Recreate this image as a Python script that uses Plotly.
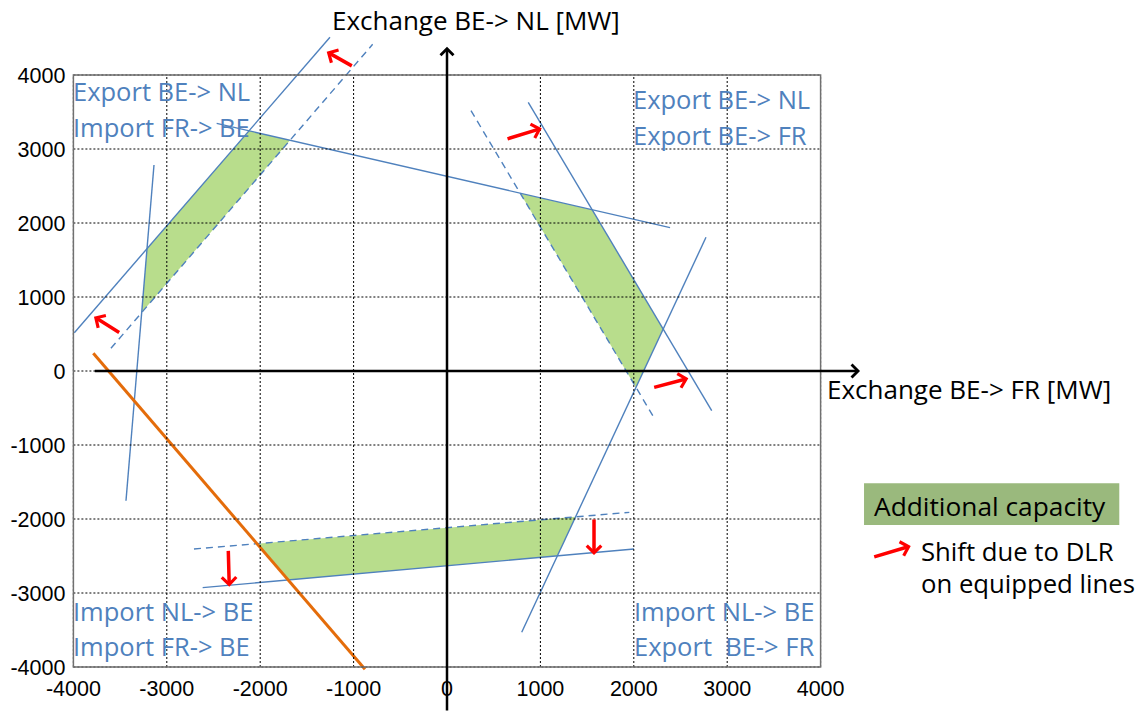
import plotly.graph_objects as go

# ---------------- data (MW) ----------------
X_TICKS = [-4000, -3000, -2000, -1000, 0, 1000, 2000, 3000, 4000]
Y_TICKS = [-4000, -3000, -2000, -1000, 0, 1000, 2000, 3000, 4000]

# constraint lines: [(x0, y0), (x1, y1)]
LINE_TL_DLR = [(-3990, 518), (-1253, 4510)]
LINE_TL_STATIC = [(-3598, 307), (-796, 4415)]
LINE_LEFT = [(-3137, 2784), (-3437, -1753)]
LINE_TOP = [(-2466, 3347), (2388, 1937)]
LINE_TR_DLR = [(870, 3631), (2834, -536)]
LINE_TR_STATIC = [(257, 3518), (2227, -653)]
LINE_RIGHT = [(800, -3531), (2773, 1807)]
LINE_BOTTOM_DLR = [(-2616, -2928), (2002, -2405)]
LINE_BOTTOM_STATIC = [(-2709, -2405), (1952, -1910)]
LINE_ORANGE = [(-3787, 239), (-878, -4031)]

# red shift arrows (tail -> head)
ARROW_TAIL_X = [-1003, -3494, 632, 2202, -2342, 1574]
ARROW_TAIL_Y = [4112, 509, 3131, -226, -2410, -1987]
ARROW_HEAD_X = [-1288, -3780, 1014, 2584, -2331, 1574]
ARROW_HEAD_Y = [4315, 734, 3280, -99, -2915, -2487]

CORNER_TEXTS = [
    ("Export BE-> NL", -4026, 3790), ("Import FR-> BE", -4026, 3300),
    ("Export BE-> NL", 1973, 3680), ("Export BE-> FR", 1973, 3190),
    ("Import NL-> BE", -4026, -3240), ("Import FR-> BE", -4026, -3715),
    ("Import NL-> BE", 1981, -3240), ("Export  BE-> FR", 1981, -3715),
]
TITLE_NL = ("Exchange BE-> NL [MW]", -1253, 4740)
TITLE_FR = ("Exchange BE-> FR [MW]", 4047, -240)
LEGEND_FILL_TEXT = ("Additional capacity", 4555, -1820)
LEGEND_ARROW_TEXT = [("Shift due to DLR", 5051, -2440), ("on equipped lines", 5051, -2875)]
LEGEND_RECT = (4465, -2081, 7198, -1518)
LEGEND_ARROW = ((4558, -2518), (4965, -2365))
AXIS_V = ((0, -4608), (0, 4383))
AXIS_H = ((-3787, 0), (4422, 0))

# ---------------- layout geometry (pixels) ----------------
W, H = 1145, 712
BOX_L, BOX_R, BOX_T, BOX_B = 73.4, 820.6, 75.0, 667.0
sx = (BOX_R - BOX_L) / 8000.0
sy = (BOX_B - BOX_T) / 8000.0
x0px = (BOX_L + BOX_R) / 2
y0px = (BOX_T + BOX_B) / 2
ext_x = [(0 - x0px) / sx, (W - x0px) / sx]
ext_y = [(y0px - H) / sy, (y0px - 0) / sy]

BLUE = "#4F81BD"
ORANGE = "#E46C0A"
RED = "#FF0000"
GREEN = "rgb(184,221,140)"
LEG_GREEN = "rgb(154,185,125)"
TXT_FONT = "Open Sans"


def intersect(l1, l2):
    (x1, y1), (x2, y2) = l1
    (x3, y3), (x4, y4) = l2
    d = (x1 - x2) * (y3 - y4) - (y1 - y2) * (x3 - x4)
    a = x1 * y2 - y1 * x2
    b = x3 * y4 - y3 * x4
    return ((a * (x3 - x4) - (x1 - x2) * b) / d, (a * (y3 - y4) - (y1 - y2) * b) / d)


fig = go.Figure()

# green areas
polys = [
    [(LINE_TL_DLR, LINE_LEFT), (LINE_TL_DLR, LINE_TOP), (LINE_TOP, LINE_TL_STATIC), (LINE_TL_STATIC, LINE_LEFT)],
    [(LINE_TOP, LINE_TR_STATIC), (LINE_TOP, LINE_TR_DLR), (LINE_TR_DLR, LINE_RIGHT), (LINE_RIGHT, LINE_TR_STATIC)],
    [(LINE_ORANGE, LINE_BOTTOM_STATIC), (LINE_BOTTOM_STATIC, LINE_RIGHT), (LINE_RIGHT, LINE_BOTTOM_DLR), (LINE_BOTTOM_DLR, LINE_ORANGE)],
]
for p in polys:
    pts = [intersect(a, b) for a, b in p]
    xs = [q[0] for q in pts] + [pts[0][0]]
    ys = [q[1] for q in pts] + [pts[0][1]]
    fig.add_trace(go.Scatter(x=xs, y=ys, mode="lines", fill="toself", fillcolor=GREEN,
                             line=dict(width=0, color=GREEN), hoverinfo="skip"))


def add_line(seg, color, width, dash="solid"):
    fig.add_trace(go.Scatter(x=[seg[0][0], seg[1][0]], y=[seg[0][1], seg[1][1]], mode="lines",
                             line=dict(color=color, width=width, dash=dash), hoverinfo="skip"))


for seg in [LINE_TL_DLR, LINE_LEFT, LINE_TOP, LINE_TR_DLR, LINE_RIGHT, LINE_BOTTOM_DLR]:
    add_line(seg, BLUE, 1.4)
for seg in [LINE_TL_STATIC, LINE_TR_STATIC, LINE_BOTTOM_STATIC]:
    add_line(seg, BLUE, 1.4, "7px,5px")
add_line(LINE_ORANGE, ORANGE, 3)

annotations = []


def arrow(tail, head, color, width, size):
    annotations.append(dict(x=head[0], y=head[1], ax=tail[0], ay=tail[1], xref="x", yref="y",
                            axref="x", ayref="y", text="", showarrow=True, arrowhead=4,
                            arrowsize=size, arrowwidth=width, arrowcolor=color, standoff=0,
                            startstandoff=0))


arrow(AXIS_V[0], AXIS_V[1], "black", 2.5, 1.0)
arrow(AXIS_H[0], AXIS_H[1], "black", 2.5, 1.0)
for tx, ty, hx, hy in zip(ARROW_TAIL_X, ARROW_TAIL_Y, ARROW_HEAD_X, ARROW_HEAD_Y):
    arrow((tx, ty), (hx, hy), RED, 3.5, 0.8)
arrow(LEGEND_ARROW[0], LEGEND_ARROW[1], RED, 3.5, 0.8)


def text(t, x, y, color, size):
    annotations.append(dict(x=x, y=y, xref="x", yref="y", text=t, showarrow=False,
                            xanchor="left", yanchor="middle",
                            font=dict(family=TXT_FONT, size=size, color=color)))


for t, x, y in CORNER_TEXTS:
    text(t, x, y, BLUE, 25.5)
text(*TITLE_NL, "black", 26)
text(*TITLE_FR, "black", 26)
text(*LEGEND_FILL_TEXT, "black", 26.3)
for t, x, y in LEGEND_ARROW_TEXT:
    text(t, x, y, "black", 25.7)

# grid of the box, drawn in data coordinates
shapes = []
for v in X_TICKS:
    shapes.append(dict(type="line", xref="x", yref="y", x0=v, x1=v, y0=Y_TICKS[0], y1=Y_TICKS[-1],
                       line=dict(color="black", width=1, dash="2px,2px"), layer="above"))
for v in Y_TICKS:
    shapes.append(dict(type="line", xref="x", yref="y", y0=v, y1=v, x0=X_TICKS[0], x1=X_TICKS[-1],
                       line=dict(color="black", width=1, dash="2px,2px"), layer="above"))
shapes.append(dict(type="rect", xref="x", yref="y", x0=X_TICKS[0], x1=X_TICKS[-1],
                   y0=Y_TICKS[0], y1=Y_TICKS[-1], line=dict(color="#707070", width=1.5),
                   fillcolor="rgba(0,0,0,0)", layer="above"))
shapes.append(dict(type="rect", xref="x", yref="y", x0=LEGEND_RECT[0], y0=LEGEND_RECT[1],
                   x1=LEGEND_RECT[2], y1=LEGEND_RECT[3], fillcolor=LEG_GREEN,
                   line=dict(width=0), layer="below"))

tickfont = dict(family="Liberation Sans", size=21.5, color="black")
fig.update_layout(
    width=W, height=H, autosize=False,
    margin=dict(l=0, r=0, t=0, b=0, pad=0, autoexpand=False),
    paper_bgcolor="white", plot_bgcolor="white", showlegend=False,
    xaxis=dict(domain=[0, 1], range=ext_x, autorange=False, anchor="free",
               position=1 - BOX_B / H, side="bottom",
               tickmode="array", tickvals=X_TICKS, ticktext=[str(v) for v in X_TICKS],
               showgrid=False, zeroline=False, showline=False, ticks="",
               tickfont=tickfont, ticklabelstandoff=6, automargin=False, fixedrange=True),
    yaxis=dict(domain=[0, 1], range=ext_y, autorange=False, anchor="free",
               position=BOX_L / W, side="left",
               tickmode="array", tickvals=Y_TICKS, ticktext=[str(v) for v in Y_TICKS],
               showgrid=False, zeroline=False, showline=False, ticks="",
               tickfont=tickfont, ticklabelstandoff=8, automargin=False, fixedrange=True),
    annotations=annotations,
    shapes=shapes,
)

fig.write_html("out.html", config={"displayModeBar": False},
               post_script="document.body.style.margin='0px';document.body.style.overflow='hidden';")
